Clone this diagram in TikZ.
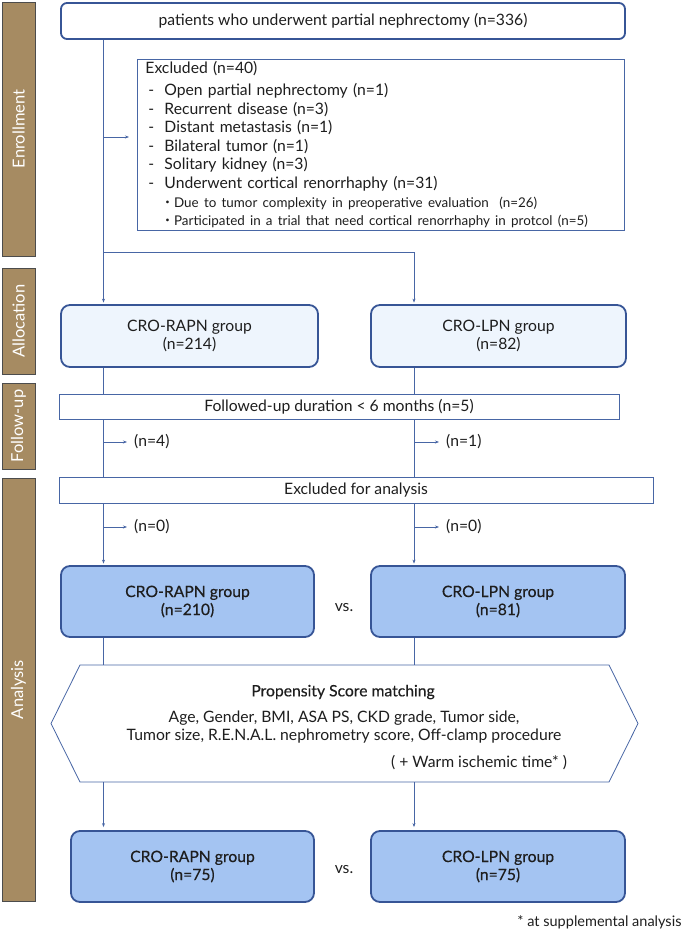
\documentclass[tikz,border=0pt]{standalone}
\usepackage{fontspec}
\setmainfont{Lato}
\newfontfamily\medium[FakeBold=0.4]{Lato}
\newfontfamily\cjk{Noto Sans CJK JP}
\usepackage{tikz}
\definecolor{ln}{RGB}{72, 102, 165}
\definecolor{bd}{RGB}{55, 85, 150}
\definecolor{pale}{RGB}{238, 245, 253}
\definecolor{mid}{RGB}{164, 196, 242}
\definecolor{brn}{RGB}{166, 139, 98}
\definecolor{ink}{RGB}{30, 30, 30}
\usetikzlibrary{arrows.meta}

\begin{document}
\begin{tikzpicture}[
  every node/.style={text=ink, font=\fontsize{15.7}{18}\selectfont},
  bar/.style={rectangle, rotate=90, fill=brn, draw=black!70, line width=0.8pt, minimum height=33pt, text=white, font=\fontsize{16.5}{18}\selectfont},
  topbox/.style={rectangle, rounded corners=6pt, draw=bd, line width=1.8pt, fill=white},
  grp/.style={rectangle, rounded corners=9pt, draw=bd, line width=1.8pt, align=center, minimum height=62pt},
  grpb/.style={grp, fill=mid, minimum height=71pt, font=\medium\fontsize{15.7}{18}\selectfont},
  thin/.style={rectangle, draw=ln, line width=0.9pt, fill=white},
  link/.style={draw=ln, line width=0.8pt},
  arr/.style={link, -{Stealth[length=4pt, width=3pt]}},
  lbl/.style={anchor=west, inner sep=3pt}
]
\useasboundingbox (0pt, 0pt) rectangle (685pt, -936pt);

% side bars
\node (s1) [bar, minimum width=254pt] at (18.5pt, -129pt) {Enrollment};
\node (s2) [bar, minimum width=106pt] at (18.5pt, -321pt) {Allocation};
\node (s3) [bar, minimum width=86pt] at (18.5pt, -426pt) {Follow-up};
\node (s4) [bar, minimum width=423pt] at (18.5pt, -689.5pt) {Analysis};

% columns
\coordinate (colL) at (103.5pt, 0pt);
\coordinate (colR) at (414pt, 0pt);

% enrollment
\node (top) [topbox, minimum width=564pt, minimum height=36pt] at (343pt, -21pt) {patients who underwent partial nephrectomy (n=336)};
\node (excl) [thin, anchor=north west, minimum width=487pt, minimum height=171pt, text width=471pt, align=left, inner xsep=8pt, inner ysep=2pt, font=\fontsize{15.7}{18.6}\selectfont] at (137pt, -59pt) {%
\vspace{3pt}Excluded (n=40)\\
\makebox[19pt][l]{\hspace{3pt}-}Open partial nephrectomy (n=1)\\
\makebox[19pt][l]{\hspace{3pt}-}Recurrent disease (n=3)\\
\makebox[19pt][l]{\hspace{3pt}-}Distant metastasis (n=1)\\
\makebox[19pt][l]{\hspace{3pt}-}Bilateral tumor (n=1)\\
\makebox[19pt][l]{\hspace{3pt}-}Solitary kidney (n=3)\\
\makebox[19pt][l]{\hspace{3pt}-}Underwent cortical renorrhaphy (n=31)\\
{\fontsize{13.4}{18.6}\selectfont\hspace*{15.3pt}{\cjk ・}Due to tumor complexity in preoperative evaluation~ (n=26)}\\
{\fontsize{13.4}{18.6}\selectfont\hspace*{15.3pt}{\cjk ・}Participated in a trial that need cortical renorrhaphy in protcol (n=5)}};
\coordinate (exA) at (103.5pt, -137pt);
\coordinate (branch) at (103.5pt, -252pt);

% allocation
\node (al1) [grp, fill=pale, minimum width=257pt] at (189.5pt, -336pt) {CRO-RAPN group\\(n=214)};
\node (al2) [grp, fill=pale, minimum width=255pt] at (498.5pt, -336pt) {CRO-LPN group\\(n=82)};

% follow-up
\node (fu) [thin, minimum width=560pt, minimum height=25pt] at (339pt, -406.5pt) {Followed-up duration < 6 months (n=5)};
\node (n4) [lbl] at (131pt, -442pt) {(n=4)};
\node (n1) [lbl] at (443pt, -442pt) {(n=1)};

% analysis
\node (ea) [thin, minimum width=594pt, minimum height=26pt] at (356pt, -490pt) {Excluded for analysis};
\node (n0a) [lbl] at (131pt, -527pt) {(n=0)};
\node (n0b) [lbl] at (443pt, -527pt) {(n=0)};
\node (an1) [grpb, minimum width=253pt] at (187.5pt, -601.5pt) {CRO-RAPN group\\(n=210)};
\node (an2) [grpb, minimum width=254pt] at (498pt, -601.5pt) {CRO-LPN group\\(n=81)};
\node (vs1) at (344pt, -608pt) {vs.};

\draw [link, fill=white] (80pt, -665pt) -- (609pt, -665pt) -- (638pt, -723.5pt) -- (609pt, -782pt) -- (80pt, -782pt) -- (51pt, -723.5pt) -- cycle;
\coordinate (hexT) at (0pt, -665pt);
\coordinate (hexB) at (0pt, -782pt);
\node (psm) [font=\medium\fontsize{15.7}{18}\selectfont] at (343pt, -692pt) {Propensity Score matching};
\node (cov) [align=center] at (344pt, -727pt) {Age, Gender, BMI, ASA PS, CKD grade, Tumor side,\\Tumor size, R.E.N.A.L. nephrometry score, Off-clamp procedure};
\node (wit) at (479pt, -763pt) {( + Warm ischemic time* )};

\node (fn1) [grpb, minimum width=243pt] at (192.5pt, -866.5pt) {CRO-RAPN group\\(n=75)};
\node (fn2) [grpb, minimum width=254pt] at (498pt, -866.5pt) {CRO-LPN group\\(n=75)};
\node (vs2) at (344pt, -870pt) {vs.};
\node (note) [anchor=east, font=\fontsize{14.5}{16}\selectfont] at (685pt, -922pt) {* at supplemental analysis};

% connectors
\draw [arr, shorten >=1.5pt] (top.south -| colL) -- (al1.north -| colL);
\draw [arr, shorten >=1.5pt] (branch) -| (al2.north -| colR);
\draw [arr, shorten >=8pt] (exA) -- (exA -| excl.west);
\draw [link] (al1.south -| colL) -- (fu.north -| colL);
\draw [link] (al2.south -| colR) -- (fu.north -| colR);
\draw [link] (fu.south -| colL) -- (ea.north -| colL);
\draw [link] (fu.south -| colR) -- (ea.north -| colR);
\draw [arr, shorten >=4pt] (n4.west -| colL) -- (n4.west);
\draw [arr, shorten >=4pt] (n1.west -| colR) -- (n1.west);
\draw [arr, shorten >=1.5pt] (ea.south -| colL) -- (an1.north -| colL);
\draw [arr, shorten >=1.5pt] (ea.south -| colR) -- (an2.north -| colR);
\draw [arr, shorten >=4pt] (n0a.west -| colL) -- (n0a.west);
\draw [arr, shorten >=4pt] (n0b.west -| colR) -- (n0b.west);
\draw [link] (an1.south -| colL) -- (hexT -| colL);
\draw [link] (an2.south -| colR) -- (hexT -| colR);
\draw [arr, shorten >=3pt] (hexB -| colL) -- (fn1.north -| colL);
\draw [arr, shorten >=3pt] (hexB -| colR) -- (fn2.north -| colR);
\end{tikzpicture}
\end{document}
